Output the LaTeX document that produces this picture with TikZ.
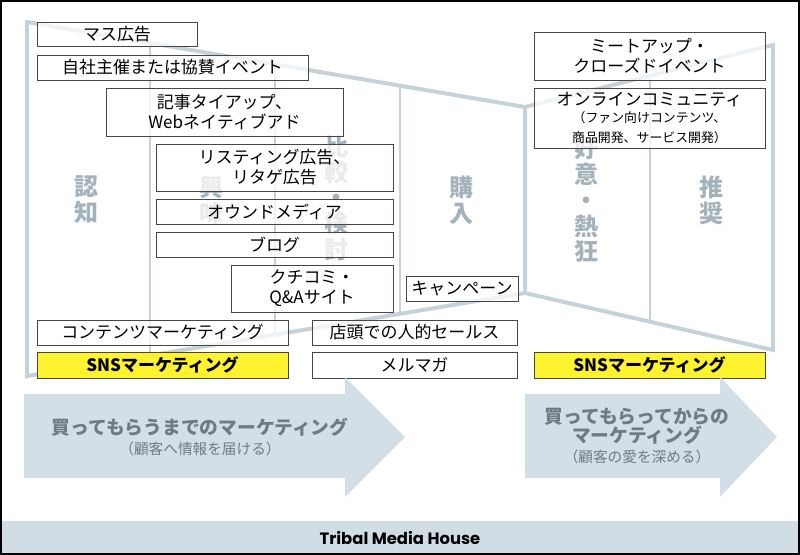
\documentclass[tikz,border=0pt]{standalone}
\usepackage{fontspec}
\setmainfont{Noto Sans CJK JP}
\newfontfamily\logofont{Poppins}
\usetikzlibrary{positioning}
\definecolor{funnelgray}{HTML}{C5D2DA}
\definecolor{stagegray}{HTML}{A4B2BC}
\definecolor{arrowblue}{HTML}{D3DFE7}
\definecolor{arrowtext}{HTML}{6E7A84}
\definecolor{boxline}{HTML}{4A4545}
\definecolor{snsyellow}{HTML}{FFF22E}
\definecolor{bandblue}{HTML}{D0DDE5}

\begin{document}
\begin{tikzpicture}[x=0.03cm, y=-0.03cm, every node/.style={font=\fontsize{14.5}{17}\selectfont}]
  \tikzset{
    adbox/.style={draw=boxline, line width=0.8pt, fill=white, fill opacity=0.75, text opacity=1, inner sep=0pt, align=center},
    snsbox/.style={adbox, fill=snsyellow, fill opacity=1, font=\fontsize{14.5}{17}\selectfont\bfseries},
    stage/.style={text=stagegray, font=\fontsize{20.5}{22}\selectfont\bfseries, align=center},
    funnel/.style={draw=funnelgray, line width=3.4pt, line join=miter},
    divider/.style={draw=funnelgray, line width=1.2pt},
    bigarrow/.style={fill=arrowblue},
    arrowlabel/.style={text=arrowtext, align=center}
  }
  \useasboundingbox (0,0) rectangle (800,555);

  % Funnel outline and stage dividers
  \draw[funnel] (27,22) -- (525,107) -- (773,45) -- (773,350) -- (525,293) -- (27,376) -- cycle;
  \draw[funnel] (525,107) -- (525,293);
  \draw[divider] (150,43) -- (150,355);
  \draw[divider] (275,64) -- (275,335);
  \draw[divider] (400,86) -- (400,314);
  \draw[divider] (650,76) -- (650,322);

  % Stages
  \node[stage] (sNinchi)  at (87,200)  {認\\知};
  \node[stage] (sKyomi)   at (212,200) {興\\味};
  \node[stage] (sHikaku)  at (337,198) {比\\較\\・\\検\\討};
  \node[stage] (sKonyu)   at (462,200) {購\\入};
  \node[stage] (sKoi)     at (587,200) {好\\意\\・\\熱\\狂};
  \node[stage] (sSuisho)  at (712,200) {推\\奨};

  % Before purchase
  \node[adbox, minimum width=4.8cm,  minimum height=0.72cm] (mass)    at (117,34)    {マス広告};
  \node[adbox, minimum width=8.13cm, minimum height=0.75cm] (event)   at (172.5,67.5) {自社主催または協賛イベント};
  \node[adbox, minimum width=7.11cm, minimum height=1.44cm] (tieup)   at (224.5,112)  {記事タイアップ、\\Webネイティブアド};
  \node[adbox, minimum width=7.11cm, minimum height=1.41cm] (listing) at (274.5,167.5) {リスティング広告、\\リタゲ広告};
  \node[adbox, minimum width=7.11cm, minimum height=0.75cm] (owned)   at (274.5,211.5) {オウンドメディア};
  \node[adbox, minimum width=7.11cm, minimum height=0.75cm] (blog)    at (274.5,244.5) {ブログ};
  \node[adbox, minimum width=4.86cm, minimum height=1.41cm] (review)  at (312,288.5)   {クチコミ・\\Q\&Aサイト};
  \node[adbox, minimum width=3.36cm, minimum height=0.75cm] (campaign) at (462,288.5)  {キャンペーン};
  \node[adbox, minimum width=7.53cm, minimum height=0.75cm] (content) at (162.5,332.5) {コンテンツマーケティング};
  \node[snsbox, minimum width=7.53cm, minimum height=0.78cm] (snsL)   at (162.5,365)   {SNSマーケティング};
  \node[adbox, minimum width=6.15cm, minimum height=0.75cm] (instore) at (414.5,332.5) {店頭での人的セールス};
  \node[adbox, minimum width=6.15cm, minimum height=0.78cm] (mailmag) at (414.5,365)   {メルマガ};

  % After purchase
  \node[adbox, minimum width=6.93cm, minimum height=1.44cm] (meetup)    at (649.5,56)  {ミートアップ・\\クローズドイベント};
  \node[adbox, minimum width=6.93cm, minimum height=1.8cm]  (community) at (649.5,118) {オンラインコミュニティ\\[-2pt]{\fontsize{11}{14}\selectfont （ファン向けコンテンツ、}\\{\fontsize{11}{14}\selectfont 商品開発、サービス開発）}};
  \node[snsbox, minimum width=6.93cm, minimum height=0.78cm] (snsR)     at (649.5,365) {SNSマーケティング};

  % Big arrows
  \fill[bigarrow] (24,394) -- (345,394) -- (345,377) -- (405,437) -- (345,497) -- (345,478) -- (24,478) -- cycle;
  \fill[bigarrow] (525,394) -- (720,394) -- (720,377) -- (777,437) -- (720,497) -- (720,478) -- (525,478) -- cycle;
  \node[arrowlabel] (toBuy) at (200,437) {{\fontsize{16}{18}\selectfont\bfseries 買ってもらうまでのマーケティング}\\{\fontsize{12.5}{15}\selectfont （顧客へ情報を届ける）}};
  \node[arrowlabel] (afterBuy) at (637,436) {{\fontsize{16}{20}\selectfont\bfseries 買ってもらってからの}\\{\fontsize{16}{20}\selectfont\bfseries マーケティング}\\{\fontsize{12.5}{15}\selectfont （顧客の愛を深める）}};

  % Footer and frame
  \fill[bandblue] (0,521) rectangle (800,555);
  \node[font=\logofont\fontsize{14}{16}\selectfont\bfseries] (logo) at (400,537.5) {Tribal Media House};
  \draw[line width=2.2pt] (1,1) rectangle (799,554);
\end{tikzpicture}
\end{document}
